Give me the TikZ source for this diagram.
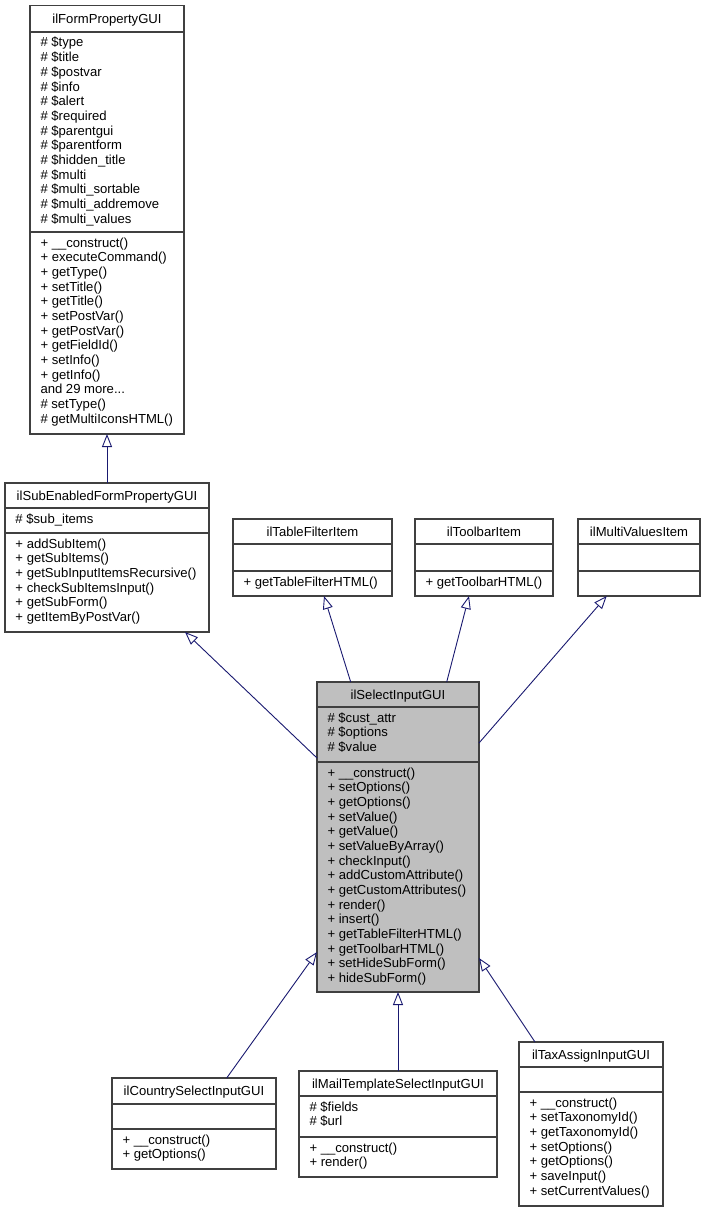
\documentclass[tikz,border=0pt]{standalone}
\usepackage{fontspec}
\setmainfont{Liberation Sans}
\usetikzlibrary{arrows.meta}
\definecolor{edgeblue}{HTML}{191970}
\definecolor{selgray}{HTML}{BFBFBF}
\definecolor{boxline}{HTML}{404040}
\newcommand\moredots{...}
\tikzset{
 classrect/.style={draw=boxline, line width=1.1pt, rectangle, inner sep=0pt, outer sep=0pt},
 sepline/.style={draw=boxline, line width=1.1pt},
 memb/.style={anchor=base west, inner sep=0pt, font=\fontsize{13.1}{14.67}\selectfont},
 ttl/.style={anchor=base, inner sep=0pt, font=\fontsize{13.1}{14.67}\selectfont},
 inherit/.style={draw=edgeblue, line width=0.9pt, -{Triangle[open, length=13pt, width=10pt]}},
}
% name, l, t, r, s1, s2, b, fill, title
\newcommand\classbox[9]{%
  \node[classrect, fill=#8, minimum width={(#4)-(#2)}, minimum height={(#7)-(#3)}] (#1) at ({((#2)+(#4))/2},{((#3)+(#7))/2}) {};
  \draw[sepline] (#2,#5) -- (#4,#5);
  \draw[sepline] (#2,#6) -- (#4,#6);
  \node[ttl] (#1-title) at ({((#2)+(#4))/2},{((#3)+(#5))/2+4.6}) {#9};
}
% prefix, x, first baseline, list
\newcommand\members[4]{%
  \foreach \itm [count=\i from 0] in {#4} {
    \node[memb] (#1-\i) at (#2, {(#3)+\i*14.67}) {\itm};
  }
}
\begin{document}
\begin{tikzpicture}[x=1pt,y=-1pt]
\useasboundingbox (0,0) rectangle (706,1212);
\fill[white] (0,0) rectangle (706,1212);

% ilFormPropertyGUI
\classbox{form}{30}{5.5}{184}{32}{232}{434}{white}{ilFormPropertyGUI}
\members{forma}{40.3}{47}{\# \$type, \# \$title, \# \$postvar, \# \$info, \# \$alert, \# \$required, \# \$parentgui, \# \$parentform, \# \$hidden\_title, \# \$multi, \# \$multi\_sortable, \# \$multi\_addremove, \# \$multi\_values}
\members{formm}{40.3}{247}{+ \_\_construct(), + executeCommand(), + getType(), + setTitle(), + getTitle(), + setPostVar(), + getPostVar(), + getFieldId(), + setInfo(), + getInfo(), and 29 more\moredots, \# setType(), \# getMultiIconsHTML()}

% ilSubEnabledFormPropertyGUI
\classbox{sub}{5}{483}{209}{508}{533}{632}{white}{ilSubEnabledFormPropertyGUI}
\members{suba}{15.3}{523}{\# \$sub\_items}
\members{subm}{15.3}{548}{+ addSubItem(), + getSubItems(), + getSubInputItemsRecursive(), + checkSubItemsInput(), + getSubForm(), + getItemByPostVar()}

% ilTableFilterItem
\classbox{tablefilter}{233}{519}{392}{544}{571}{596}{white}{ilTableFilterItem}
\members{tablefilterm}{243.3}{586}{+ getTableFilterHTML()}

% ilToolbarItem
\classbox{toolbar}{415}{519}{553}{544}{571}{596}{white}{ilToolbarItem}
\members{toolbarm}{425.3}{586}{+ getToolbarHTML()}

% ilMultiValuesItem
\classbox{multi}{578}{519}{700}{544}{571}{596}{white}{ilMultiValuesItem}

% ilSelectInputGUI
\classbox{sel}{317}{682}{479}{707}{762}{992}{selgray}{ilSelectInputGUI}
\members{sela}{327.3}{722}{\# \$cust\_attr, \# \$options, \# \$value}
\members{selm}{327.3}{777}{+ \_\_construct(), + setOptions(), + getOptions(), + setValue(), + getValue(), + setValueByArray(), + checkInput(), + addCustomAttribute(), + getCustomAttributes(), + render(), + insert(), + getTableFilterHTML(), + getToolbarHTML(), + setHideSubForm(), + hideSubForm()}

% ilCountrySelectInputGUI
\classbox{country}{112}{1078}{276}{1104}{1129}{1169}{white}{ilCountrySelectInputGUI}
\members{countrym}{122.3}{1144}{+ \_\_construct(), + getOptions()}

% ilMailTemplateSelectInputGUI
\classbox{mail}{299}{1071}{497}{1096}{1137}{1177}{white}{ilMailTemplateSelectInputGUI}
\members{maila}{309.3}{1111}{\# \$fields, \# \$url}
\members{mailm}{309.3}{1152}{+ \_\_construct(), + render()}

% ilTaxAssignInputGUI
\classbox{tax}{519}{1042}{663}{1067}{1092}{1206}{white}{ilTaxAssignInputGUI}
\members{taxm}{529.3}{1107}{+ \_\_construct(), + setTaxonomyId(), + getTaxonomyId(), + setOptions(), + getOptions(), + saveInput(), + setCurrentValues()}

% inheritance connectors
\draw[inherit] (sub.north) -- (form.south);
\draw[inherit] ([xshift=-47.3pt]sel.north) -- ([xshift=11.5pt]tablefilter.south);
\draw[inherit] ([xshift=48.7pt]sel.north) -- ([xshift=-15pt]toolbar.south);
\draw[inherit] ([yshift=94pt]sel.east) -- ([xshift=-32.3pt]multi.south);
\draw[inherit] ([yshift=79pt]sel.west) -- ([xshift=78pt]sub.south);
\draw[inherit] ([xshift=32.7pt]country.north) -- ([yshift=-115pt]sel.west);
\draw[inherit] (mail.north) -- (sel.south);
\draw[inherit] ([xshift=-56pt]tax.north) -- ([yshift=-121pt]sel.east);
\end{tikzpicture}
\end{document}
